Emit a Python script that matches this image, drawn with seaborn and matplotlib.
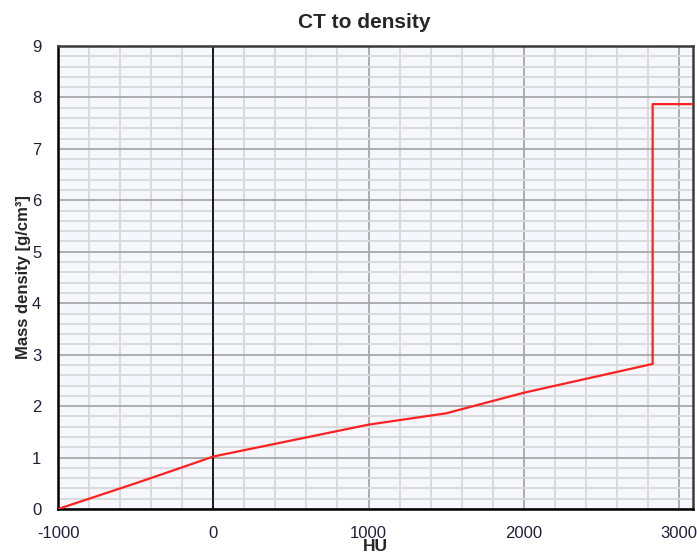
import matplotlib
matplotlib.use("Agg")
import matplotlib.pyplot as plt
import seaborn as sns
import pandas as pd
from matplotlib.ticker import MultipleLocator

hu = [-1000, -500, -200, 0, 1000, 1500, 2000, 2830, 2830, 3100]
density = [0.0, 0.50, 0.81, 1.02, 1.64, 1.86, 2.26, 2.82, 7.87, 7.87]
x_ticks = [-1000, 0, 1000, 2000, 3000]
y_ticks = [0, 1, 2, 3, 4, 5, 6, 7, 8, 9]

df = pd.DataFrame({"HU": hu, "density": density, "order": range(len(hu))})

sns.set_style("white")
plt.rcParams["font.family"] = ["Liberation Sans", "DejaVu Sans"]
plt.rcParams["axes.unicode_minus"] = False

fig = plt.figure(figsize=(6.97, 5.55), dpi=100)
ax = fig.add_axes([58/697, 1-509/555, (693-58)/697, (509-46)/555])
ax.set_facecolor("#f6f7fd")

ax.set_xlim(-1000, 3090)
ax.set_ylim(0, 9)
ax.xaxis.set_major_locator(MultipleLocator(1000))
ax.xaxis.set_minor_locator(MultipleLocator(200))
ax.yaxis.set_major_locator(MultipleLocator(1))
ax.yaxis.set_minor_locator(MultipleLocator(0.2))
ax.set_xticks(x_ticks)
ax.set_yticks(y_ticks)

ax.grid(which="minor", color="#dadada", linewidth=1.4, zorder=0)
ax.grid(which="major", color="#a8a8a8", linewidth=1.3, zorder=0)
ax.set_axisbelow(True)

ax.axvline(0, color="black", linewidth=1.2, zorder=2)

sns.lineplot(data=df, x="HU", y="density", sort=False, estimator=None,
             color="#ff2020", linewidth=1.6, ax=ax, zorder=3)

for side in ["left", "bottom"]:
    ax.spines[side].set_color("black")
    ax.spines[side].set_linewidth(1.8)
for side in ["top", "right"]:
    ax.spines[side].set_color("#3a3a3a")
    ax.spines[side].set_linewidth(1.8)
    ax.spines[side].set_visible(True)

ax.tick_params(which="major", direction="inout", length=20, width=1.6,
               color="black", labelsize=12, labelcolor="#20203a", pad=2)
ax.tick_params(which="minor", direction="in", length=5, width=1.4, color="black")
ax.tick_params(axis="y", which="both", right=False)
ax.tick_params(axis="x", which="both", top=False)

ax.set_xlabel("HU", fontsize=12.5, fontweight="bold", labelpad=-1)
ax.set_ylabel("Mass density [g/cm³]", fontsize=12, fontweight="bold", labelpad=1)
fig.text(0.522, 1-22/555, "CT to density", ha="center", va="center",
         fontsize=15, fontweight="bold")

fig.savefig("out.png", dpi=100)
